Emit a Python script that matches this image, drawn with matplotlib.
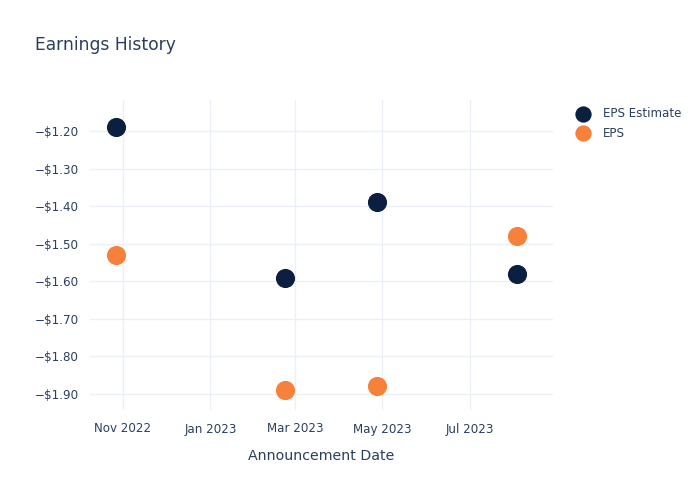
import matplotlib
matplotlib.use("Agg")
import matplotlib.pyplot as plt
import matplotlib.dates as mdates
from matplotlib.ticker import FuncFormatter, FixedLocator
import datetime as dt

dates = ["2022-10-27", "2023-02-22", "2023-04-27", "2023-08-03"]
eps_estimate = [-1.19, -1.59, -1.39, -1.58]
eps_actual = [-1.53, -1.89, -1.88, -1.48]
x_ticks = ["2022-11-01", "2023-01-01", "2023-03-01", "2023-05-01", "2023-07-01"]
x_tick_labels = ["Nov 2022", "Jan 2023", "Mar 2023", "May 2023", "Jul 2023"]
y_ticks = [-1.2, -1.3, -1.4, -1.5, -1.6, -1.7, -1.8, -1.9]

text_color = "#2a3f5f"
grid_color = "#ebf0f8"
navy = "#0b1f41"
orange = "#f7803a"

to_dt = lambda s: dt.datetime.strptime(s, "%Y-%m-%d")
xd = [to_dt(d) for d in dates]

fig = plt.figure(figsize=(7, 5), dpi=100)
ax = fig.add_axes([90/700, 90/500, (553-90)/700, 310/500])

ax.scatter(xd, eps_estimate, s=190, color=navy, zorder=3, label="EPS Estimate", linewidths=0)
ax.scatter(xd, eps_actual, s=190, color=orange, zorder=3, label="EPS", linewidths=0)

ax.set_xlim(to_dt("2022-10-09"), to_dt("2023-08-28"))
ax.set_ylim(-1.9426, -1.1175)

ax.xaxis.set_major_locator(FixedLocator([mdates.date2num(to_dt(t)) for t in x_ticks]))
ax.set_xticklabels(x_tick_labels)
ax.set_yticks(y_ticks)
ax.yaxis.set_major_formatter(FuncFormatter(lambda v, p: ("\u2212" if v < 0 else "") + "$%.2f" % abs(v)))

for s in ax.spines.values():
    s.set_visible(False)
ax.grid(True, color=grid_color, linewidth=1)
ax.set_axisbelow(True)
ax.tick_params(length=0, labelsize=8.6, colors=text_color, pad=8)
ax.tick_params(axis="x", pad=9)

ax.set_xlabel("Announcement Date", fontsize=10.2, color=text_color, labelpad=10)
fig.text(35/700, 1 - 45/500, "Earnings History", fontsize=12.3, color=text_color, va="center", ha="left")

fig.legend(loc="upper left", bbox_to_anchor=(567/700, 1 - 101/500), frameon=False,
           fontsize=8.6, labelcolor=text_color, handletextpad=0.9, labelspacing=0.55,
           borderpad=0, handlelength=1.6, markerscale=0.85)

fig.savefig("out.png", dpi=100, facecolor="white")
